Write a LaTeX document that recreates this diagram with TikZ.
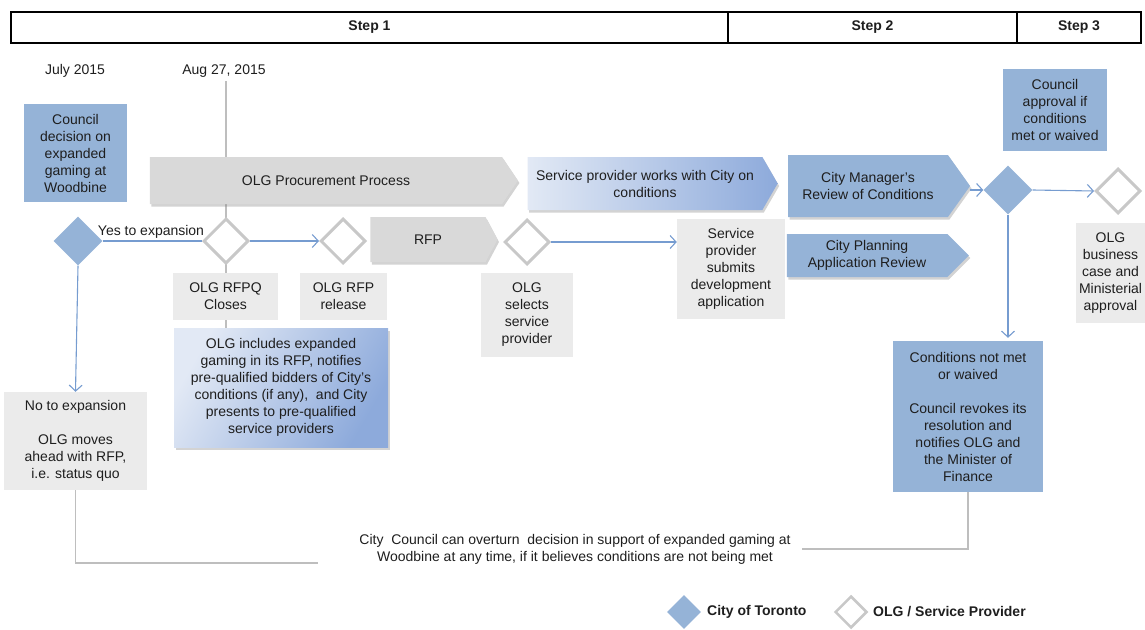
\documentclass[tikz,border=0pt]{standalone}
\usepackage{fontspec}
\setmainfont{Liberation Sans}
\usetikzlibrary{shapes.geometric,shapes.symbols,arrows.meta,shadows,backgrounds}
\definecolor{cblue}{RGB}{149,179,215}
\definecolor{clight}{RGB}{226,233,245}
\definecolor{cgrad}{RGB}{141,170,219}
\definecolor{lgray}{RGB}{235,235,235}
\definecolor{chgray}{RGB}{217,217,217}
\definecolor{dgray}{RGB}{200,200,200}
\definecolor{lnblue}{RGB}{118,156,208}
\definecolor{lngray}{RGB}{190,190,190}
\definecolor{txt}{RGB}{30,30,30}
\tikzset{
  hdr/.style={draw=black, line width=1.1pt, inner sep=0, minimum height=31pt, font=\fontsize{14}{17}\selectfont\bfseries},
  lbox/.style={fill=lgray, align=center, inner sep=0},
  bbox/.style={fill=cblue, align=center, inner sep=0},
  shad/.style={drop shadow={opacity=0.35, shadow xshift=1.5pt, shadow yshift=-2.5pt}},
  chev/.style={signal, signal to=east, signal from=nowhere, inner sep=0, align=center, shad},
  gdia/.style={diamond, draw=dgray, fill=white, line width=3pt, inner sep=0, minimum width=45pt, minimum height=45pt},
  bdia/.style={diamond, fill=cblue, inner sep=0, minimum width=49pt, minimum height=49pt},
  bline/.style={draw=lnblue, line width=1.1pt},
  barrow/.style={bline, -{Straight Barb[length=6pt,width=13pt,line width=1.1pt]}},
  gline/.style={draw=lngray, line width=1.5pt},
}
\begin{document}
\begin{tikzpicture}[x=1pt,y=-1pt, font=\fontsize{14}{17}\selectfont, text=txt]
\useasboundingbox (0,0) rectangle (1145,629);
% header
\node[hdr, minimum width=717pt] (s1) at (369.5,27.5) {Step 1};
\node[hdr, minimum width=289pt] (s2) at (872.5,27.5) {Step 2};
\node[hdr, minimum width=124pt] (s3) at (1079,27.5) {Step 3};
% dates
\node (d1) at (75,71) {July 2015};
\node (d2) at (224,71) {Aug 27, 2015};
% left part
\node[bbox, minimum width=103pt, minimum height=98pt] (cd) at (75.5,153) {Council\\decision on\\expanded\\gaming at\\Woodbine};
\node[chev, fill=chgray, minimum width=368pt, minimum height=47pt, signal pointer angle=112] (proc) at (326,180.5) {OLG Procurement Process};
\node[bdia] (dec) at (78,241) {};
\node[gdia] (rfpq) at (226,241) {};
\node[gdia] (rfpr) at (343,241) {};
\node[chev, fill=chgray, minimum width=127pt, minimum height=45pt, signal pointer angle=124] (rfp) at (428,239.5) {RFP};
\node[gdia] (sel) at (527,242) {};
\node[lbox, minimum width=105pt, minimum height=47pt] (rfpqlab) at (225.5,296.5) {OLG RFPQ\\Closes};
\node[lbox, minimum width=87pt, minimum height=47pt] (rfprlab) at (343.5,296.5) {OLG RFP\\release};
\node[lbox, minimum width=92pt, minimum height=84pt] (sellab) at (527,315) {OLG\\selects\\service\\provider};
\node[align=center, inner sep=0, minimum width=214pt, minimum height=119pt, left color=clight, right color=cgrad, shading angle=60, shad] (olginc) at (281,387.5) {OLG includes expanded\\gaming in its RFP, notifies\\pre-qualified bidders of City's\\conditions (if any),\ \ and City\\presents to pre-qualified\\service providers};
\node[lbox, minimum width=143pt, minimum height=98pt] (noexp) at (75.5,441) {No to expansion\\[17pt]OLG moves\\ahead with RFP,\\i.e. status quo};
\node[inner sep=0] (yes) at (151,232) {Yes to expansion};
% middle/right
\node[chev, left color=clight, right color=cgrad, minimum width=250pt, minimum height=53pt, signal pointer angle=120] (spw) at (645,183.5) {Service provider works with City on\\conditions};
\node[lbox, minimum width=108pt, minimum height=100pt] (sub) at (731,269) {Service\\provider\\submits\\development\\application};
\node[chev, fill=cblue, minimum width=182pt, minimum height=62pt, signal pointer angle=109] (cm) at (868,186) {City Manager's\\Review of Conditions};
\node[chev, fill=cblue, minimum width=182pt, minimum height=43pt, signal pointer angle=90] (cp) at (867,255.5) {City Planning\\Application Review};
\node[bdia] (dec2) at (1008,190) {};
\node[gdia] (biz) at (1118,191) {};
\node[bbox, minimum width=104pt, minimum height=82pt] (ca) at (1055,110) {Council\\approval if\\conditions\\met or waived};
\node[lbox, minimum width=69pt, minimum height=100pt] (bizlab) at (1110.5,273) {OLG\\business\\case and\\Ministerial\\approval};
\node[bbox, minimum width=150pt, minimum height=151pt] (cond) at (968,416.5) {Conditions not met\\or waived\\[17pt]Council revokes its\\resolution and\\notifies OLG and\\the Minister of\\Finance};
\node[align=center, inner sep=0] (over) at (575,549.5) {City\ \ Council can overturn\ \ decision in support of expanded gaming at\\Woodbine at any time, if it believes conditions are not being met};
% legend
\node[diamond, fill=cblue, inner sep=0, minimum width=34pt, minimum height=34pt] (ld1) at (684,612) {};
\node[anchor=west, inner sep=0, font=\fontsize{14}{17}\selectfont\bfseries] (lt1) at (707,612) {City of Toronto};
\node[diamond, draw=dgray, fill=white, line width=2.5pt, inner sep=0, minimum width=32pt, minimum height=32pt] (ld2) at (851,612) {};
\node[anchor=west, inner sep=0, font=\fontsize{14}{17}\selectfont\bfseries] (lt2) at (873,612) {OLG / Service Provider};
\coordinate (ovl) at (318,563);
\coordinate (ovr) at (802,549);
% connectors
\begin{scope}[on background layer]
\draw[gline, line width=1.2pt] (d2.south -| rfpq.center) -- (olginc.north -| rfpq.center);
\end{scope}
\draw[bline] (dec.east) -- (rfpq.west);
\draw[barrow] (rfpq.east) -- (rfpr.west);
\draw[barrow] (dec.south) -- (noexp.north);
\draw[barrow] (sel.east) -- (sel.east -| sub.west);
\draw[barrow] (dec2.west -| cm.east) -- (dec2.west);
\draw[barrow] (dec2.east) -- (biz.west);
\draw[barrow, shorten >=3pt] (dec2.south) -- (cond.north -| dec2.south);
\draw[gline] (noexp.south) |- (ovl);
\draw[gline] (cond.south) |- (ovr);
\end{tikzpicture}
\end{document}
